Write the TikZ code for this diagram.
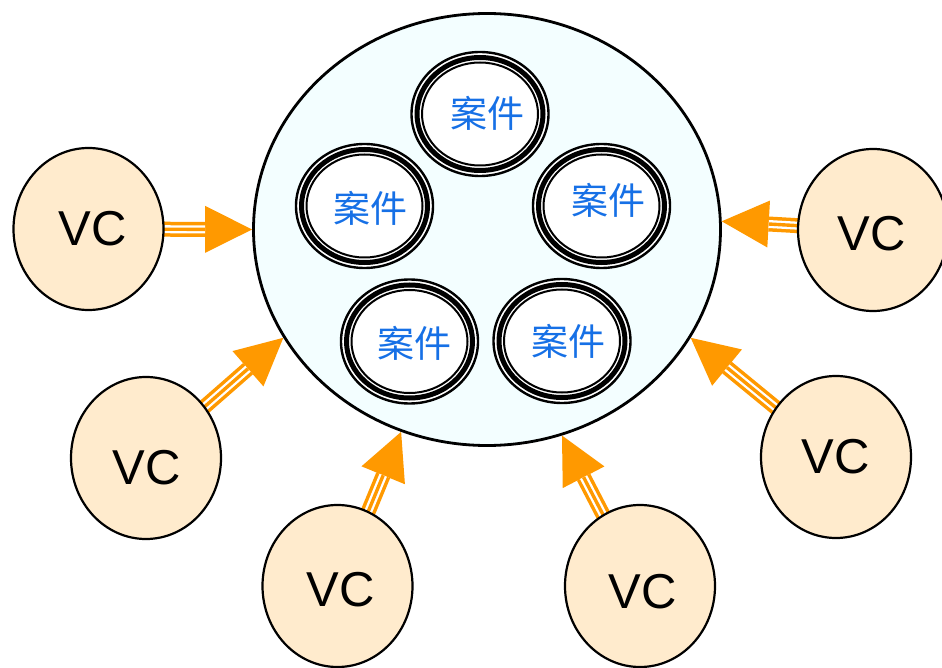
\documentclass[tikz,border=0pt]{standalone}
\usepackage{fontspec}
\setmainfont{Liberation Sans}
\newfontfamily\cjkfont{Noto Sans CJK SC}
\usetikzlibrary{shapes.geometric,calc}

\definecolor{poolfill}{HTML}{F3FEFF}
\definecolor{vcfill}{HTML}{FFEBCD}
\definecolor{feedor}{HTML}{FF9900}
\definecolor{caseblue}{HTML}{1670E6}

\pgfdeclarelayer{front}
\pgfsetlayers{main,front}

\tikzset{
  pool/.style={ellipse, draw, line width=2.8pt, fill=poolfill,
    minimum width=467pt, minimum height=432pt, inner sep=0pt},
  vc/.style={ellipse, draw, line width=2.2pt, fill=vcfill,
    minimum width=150pt, minimum height=162pt, inner sep=0pt},
  vclabel/.style={inner sep=0pt, font=\fontsize{49}{49}\selectfont},
  casenode/.style={ellipse, draw, line width=2.4pt, fill=white,
    minimum width=137pt, minimum height=124pt, inner sep=0pt},
  caselabel/.style={inner sep=0pt, text=caseblue,
    font=\cjkfont\fontsize{37}{37}\selectfont},
}

% inner thick and thin rings of a case
\newcommand\caserings[1]{%
  \draw[line width=5pt] (#1.center) ellipse [x radius=63pt, y radius=56.5pt];
  \draw[line width=2pt] (#1.center) ellipse [x radius=58pt, y radius=51.5pt];
}

% triple-striped feed arrow from a VC into the pool
\newcommand\feed[2]{%
  \coordinate (fs) at (#1);
  \coordinate (ft) at (#2);
  \coordinate (fb) at ($(ft)!47pt!(fs)$);
  \fill[feedor] (ft) -- ($(fb)!23.5pt!90:(ft)$) -- ($(fb)!23.5pt!-90:(ft)$) -- cycle;
  \draw[feedor, line width=15pt] (fs) -- (fb);
  \draw[white, line width=8pt] (fs) -- (fb);
  \draw[feedor, line width=3.4pt] (fs) -- (fb);
}

\begin{document}
\begin{tikzpicture}[x=1pt, y=-1pt]
  \useasboundingbox (0,0) rectangle (942,668);

  % the pool
  \node[pool] (pool) at (487,229.5) {};

  % cases
  \node[casenode] (caseT)  at (480,114)   {};
  \node[casenode] (caseL)  at (364.5,206) {};
  \node[casenode] (caseR)  at (601.5,206) {};
  \node[casenode] (caseBL) at (409.5,341.5) {};
  \node[casenode] (caseBR) at (562,341)   {};
  \caserings{caseT}
  \caserings{caseL}
  \caserings{caseR}
  \caserings{caseBL}
  \caserings{caseBR}
  \node[caselabel] (labT)  at (487,113) {案件};
  \node[caselabel] (labL)  at (370,208) {案件};
  \node[caselabel] (labR)  at (608,200) {案件};
  \node[caselabel] (labBL) at (414,343) {案件};
  \node[caselabel] (labBR) at (568,341) {案件};

  % VCs
  \begin{pgfonlayer}{front}
    \node[vc] (vcL)  at (88.5,229) {};
    \node[vc] (vcR)  at (873,230)  {};
    \node[vc] (vcLL) at (146,458)  {};
    \node[vc] (vcLR) at (836,457)  {};
    \node[vc] (vcBL) at (337.5,586) {};
    \node[vc] (vcBR) at (640,586)  {};
    \node[vclabel] (tL)  at (93,229)  {VC};
    \node[vclabel] (tR)  at (872,234) {VC};
    \node[vclabel] (tLL) at (147,468) {VC};
    \node[vclabel] (tLR) at (836,457) {VC};
    \node[vclabel] (tBL) at (341,590) {VC};
    \node[vclabel] (tBR) at (643,592) {VC};
  \end{pgfonlayer}

  % feeds
  \feed{vcL.center}{pool.180}
  \feed{vcR.center}{pool.2}
  \feed{vcLL.center}{pool.208.5}
  \feed{vcLR.center}{pool.332}
  \feed{vcBL.center}{pool.247}
  \feed{vcBR.center}{pool.290}
\end{tikzpicture}
\end{document}
